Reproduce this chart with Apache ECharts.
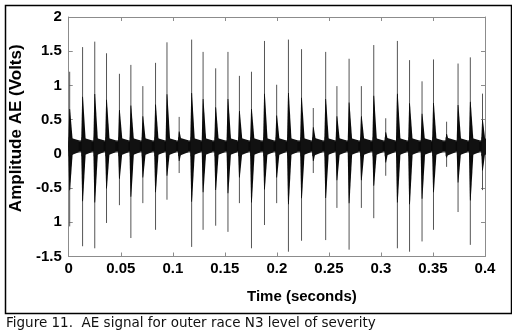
<!DOCTYPE html>
<html>
<head>
<meta charset="utf-8">
<script src="https://cdn.jsdelivr.net/npm/echarts@6/dist/echarts.min.js"></script>
<style>
  html, body { margin: 0; padding: 0; background: #fff; }
  #main { width: 512px; height: 335px; }
</style>
</head>
<body>
<div id="main"></div>
<script>
// spike instants (s) and their extreme amplitudes (V)
var spikeTimes = [0.0009, 0.0133, 0.0250, 0.0363, 0.0487, 0.0597, 0.0712, 0.0834, 0.0944, 0.1061,
  0.1181, 0.1291, 0.1412, 0.1530, 0.1640, 0.1756, 0.1881, 0.1998, 0.2111, 0.2237,
  0.2350, 0.2469, 0.2577, 0.2694, 0.2812, 0.2931, 0.3046, 0.3158, 0.3275, 0.3395,
  0.3505, 0.3631, 0.3741, 0.3859, 0.3976];
var spikePeaks = [1.20, 1.56, 1.64, 1.47, 1.17, 1.30, 0.99, 1.33, 1.63, 0.54,
  1.67, 1.49, 1.25, 1.49, 1.14, 1.20, 1.65, 1.01, 1.67, 1.53,
  0.67, 1.49, 0.99, 1.39, 0.99, 1.59, 0.52, 1.65, 1.37, 1.06,
  1.38, 0.47, 1.32, 1.41, 0.88];
var spikeTroughs = [-1.06, -1.35, -1.38, -1.01, -0.75, -1.23, -0.72, -1.11, -0.67, -0.28,
  -1.36, -1.11, -1.05, -1.14, -0.72, -1.38, -1.04, -0.72, -1.43, -1.27,
  -0.28, -1.26, -0.79, -1.40, -0.79, -0.94, -0.32, -1.38, -1.43, -1.28,
  -1.11, -0.19, -0.85, -1.33, -0.53];

// background noise band of the signal
var baseLevel = 0.11;
var bandLow = 0.04;
var bandHigh = 0.18;

// y tick labels as printed in the figure (the -1 tick lost its minus sign)
var yTickValues = [-1.5, -1, -0.5, 0, 0.5, 1, 1.5, 2];
var yTickLabels = ['-1.5', '1', '-0.5', '0', '0.5', '1', '1.5', '2'];

var spikeData = spikeTimes.map(function (t, i) {
  return [t, spikePeaks[i], spikeTroughs[i]];
});

var chart = echarts.init(document.getElementById('main'));

function renderSpike(params, api) {
  var t = api.value(0);
  var top = api.coord([t, api.value(1)]);
  var bot = api.coord([t, api.value(2)]);
  var base = api.coord([t, baseLevel]);
  var x = top[0], yb = base[1];
  var upTip = yb + (top[1] - yb) * 0.5;
  var dnTip = yb + (bot[1] - yb) * 0.55;
  return {
    type: 'group',
    children: [
      { type: 'line', shape: { x1: x, y1: top[1], x2: x, y2: bot[1] },
        style: { stroke: '#555', lineWidth: 1 } },
      // dark burst around the impact, fading out towards the tips
      { type: 'polygon', shape: { points: [[x - 1.5, yb], [x - 0.4, upTip], [x + 0.4, upTip], [x + 3.5, yb],
          [x + 0.4, dnTip], [x - 0.4, dnTip]] },
        style: { fill: '#0a0a0a' } },
      // ring-down after the impact
      { type: 'polygon', shape: { points: [[x - 1, yb - 9], [x + 9, yb - 6], [x + 9, yb + 6], [x - 1, yb + 10]] },
        style: { fill: '#111' } }
    ]
  };
}

var axisGray = '#8c8c8c';
var labelFont = { color: '#000', fontFamily: 'Liberation Sans', fontWeight: 'bold', fontSize: 15 };

chart.setOption({
  animation: false,
  grid: { left: 58, right: 27, top: 17, bottom: 78.5 },
  xAxis: [{
    type: 'value', min: 0, max: 0.4, interval: 0.05,
    name: 'Time (seconds)', nameLocation: 'middle', nameGap: 33,
    nameTextStyle: { color: '#000', fontFamily: 'Liberation Sans', fontWeight: 'bold', fontSize: 15, padding: [0, 0, 0, 50] },
    axisLine: { onZero: false, lineStyle: { color: axisGray } },
    axisTick: { inside: true, length: 4, lineStyle: { color: axisGray } },
    axisLabel: Object.assign({ margin: 5 }, labelFont),
    splitLine: { show: false }
  }, {
    type: 'value', min: 0, max: 0.4, interval: 0.05, position: 'top',
    axisLine: { onZero: false, lineStyle: { color: axisGray } },
    axisTick: { inside: true, length: 4, lineStyle: { color: axisGray } },
    axisLabel: { show: false },
    splitLine: { show: false }
  }],
  yAxis: [{
    type: 'value', min: -1.5, max: 2, interval: 0.5,
    name: 'Amplitude AE (Volts)', nameLocation: 'middle', nameGap: 36,
    nameTextStyle: { color: '#000', fontFamily: 'Liberation Sans', fontWeight: 'bold', fontSize: 17, padding: [0, 0, 0, 17] },
    axisLine: { onZero: false, lineStyle: { color: axisGray } },
    axisTick: { inside: true, length: 4, lineStyle: { color: axisGray } },
    axisLabel: Object.assign({
      margin: 7,
      formatter: function (v) {
        var i = yTickValues.indexOf(v);
        return i >= 0 ? yTickLabels[i] : '';
      }
    }, labelFont),
    splitLine: { show: false }
  }, {
    type: 'value', min: -1.5, max: 2, interval: 0.5, position: 'right',
    axisLine: { onZero: false, lineStyle: { color: axisGray } },
    axisTick: { inside: true, length: 4, lineStyle: { color: axisGray } },
    axisLabel: { show: false },
    splitLine: { show: false }
  }],
  series: [{
    type: 'custom',
    xAxisIndex: 0,
    yAxisIndex: 0,
    clip: true,
    renderItem: renderSpike,
    data: spikeData,
    markArea: {
      silent: true,
      data: [
        [{ xAxis: 0, yAxis: bandLow - 0.02, itemStyle: { color: '#444' } }, { xAxis: 0.4, yAxis: bandHigh + 0.02 }],
        [{ xAxis: 0, yAxis: bandLow, itemStyle: { color: '#0a0a0a' } }, { xAxis: 0.4, yAxis: bandHigh }]
      ]
    }
  }],
  graphic: [
    { type: 'rect', left: 3, top: 3, shape: { width: 506, height: 308 },
      style: { fill: 'none', stroke: '#000', lineWidth: 1.5 }, z: -1 },
    { type: 'text', left: 6, top: 316,
      style: { text: 'Figure 11.  AE signal for outer race N3 level of severity',
        fill: '#111', font: '13.5px "DejaVu Sans"' } }
  ]
});
</script>
</body>
</html>
